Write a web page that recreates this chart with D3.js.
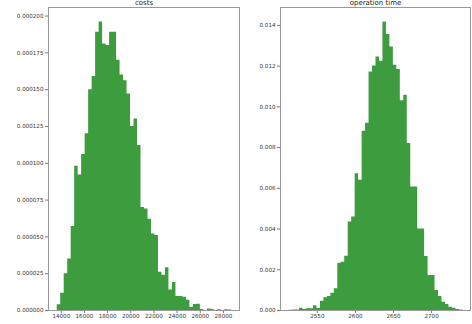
<!DOCTYPE html>
<html>
<head>
<meta charset="utf-8">
<script src="https://cdn.jsdelivr.net/npm/d3@7"></script>
<style>
body { margin: 0; background: #fff; }
svg text { font-family: "DejaVu Sans", sans-serif; }
</style>
</head>
<body>
<script>
// costs histogram (density, 50 bins)
var costRange = [13650, 28720]
var costDensity = [
    3.9e-6, 1.18e-5, 2.5e-5, 3.5e-5, 5.7e-5, 9.8e-5, 9.2e-5, 1.06e-4, 1.2e-4, 1.5e-4,
    1.59e-4, 1.89e-4, 1.96e-4, 1.81e-4, 1.8e-4, 1.89e-4, 1.89e-4, 1.7e-4, 1.6e-4, 1.56e-4,
    1.47e-4, 1.25e-4, 1.3e-4, 1.12e-4, 7.0e-5, 6.9e-5, 6.2e-5, 5.2e-5, 5.1e-5, 2.6e-5,
    2.4e-5, 2.9e-5, 1.4e-5, 1.9e-5, 9.5e-6, 9.5e-6, 9e-6, 7e-6, 2e-6, 4e-6,
    4.3e-6, 0.7e-6, 0, 1e-6, 0.7e-6, 0, 0.5e-6, 0, 0.5e-6, 0.3e-6
]
var costTicksX = [14000, 16000, 18000, 20000, 22000, 24000, 26000, 28000]
var costTicksY = [0, 0.000025, 0.00005, 0.000075, 0.0001, 0.000125, 0.00015, 0.000175, 0.0002]

// operation time histogram (density, 50 bins)
var timeRange = [2513, 2741]
var timeDensity = [
    1e-5, 2e-5, 2e-5, 1.1e-4, 5e-5, 8e-5, 8e-5, 2.3e-4, 1e-4, 4.6e-4,
    6.2e-4, 6.9e-4, 8.5e-4, 1.07e-3, 2.32e-3, 2.37e-3, 2.67e-3, 4.34e-3, 4.59e-3, 6.72e-3,
    6.39e-3, 8.8e-3, 9.2e-3, 1.171e-2, 1.2e-2, 1.245e-2, 1.224e-2, 1.417e-2, 1.355e-2, 1.294e-2,
    1.204e-2, 1.184e-2, 1.03e-2, 1.057e-2, 8.2e-3, 6.06e-3, 6.06e-3, 4.0e-3, 4.0e-3, 2.65e-3,
    1.72e-3, 1.72e-3, 9.8e-4, 6.9e-4, 4.1e-4, 2.9e-4, 1.6e-4, 1.1e-4, 5e-5, 3e-5
]
var timeTicksX = [2550, 2600, 2650, 2700]
var timeTicksY = [0, 0.002, 0.004, 0.006, 0.008, 0.010, 0.012, 0.014]

var width = 472
var height = 324
var fill = '#3d9c3d'

var svg = d3.select('body')
    .append('svg')
    .attr('width', width)
    .attr('height', height)

histPanel({
    title: 'costs', left: 48, right: 240, top: 7, bottom: 310,
    range: costRange, values: costDensity,
    ticksX: costTicksX, ticksY: costTicksY,
    fmtX: d3.format('d'), fmtY: d3.format('.6f')
})

histPanel({
    title: 'operation time', left: 280, right: 471, top: 7, bottom: 310,
    range: timeRange, values: timeDensity,
    ticksX: timeTicksX, ticksY: timeTicksY,
    fmtX: d3.format('d'), fmtY: d3.format('.3f')
})

function histPanel(o) {
    var n = o.values.length
    var step = (o.range[1] - o.range[0]) / n
    var pad = (o.range[1] - o.range[0]) * 0.05
    var ymax = d3.max(o.values)

    var x = d3.scaleLinear()
        .domain([o.range[0] - pad, o.range[1] + pad])
        .range([o.left, o.right])

    var y = d3.scaleLinear()
        .domain([0, ymax * 1.05])
        .range([o.bottom, o.top])

    var pts = o.values.map(function (v, i) { return [o.range[0] + i * step, v] })
    pts.push([o.range[1], o.values[n - 1]])

    var area = d3.area()
        .curve(d3.curveStepAfter)
        .x(function (d) { return x(d[0]) })
        .y0(y(0))
        .y1(function (d) { return y(d[1]) })

    var g = svg.append('g')

    g.append('path')
        .datum(pts)
        .attr('d', area)
        .attr('fill', fill)

    var xAxis = d3.axisBottom(x)
        .tickValues(o.ticksX)
        .tickFormat(o.fmtX)
        .tickSize(3)
        .tickPadding(1.5)

    var yAxis = d3.axisLeft(y)
        .tickValues(o.ticksY)
        .tickFormat(o.fmtY)
        .tickSize(3)
        .tickPadding(1.5)

    var gx = g.append('g')
        .attr('transform', 'translate(0,' + o.bottom + ')')
        .call(xAxis)

    var gy = g.append('g')
        .attr('transform', 'translate(' + o.left + ',0)')
        .call(yAxis)

    ;[gx, gy].forEach(function (a) {
        a.select('.domain').remove()
        a.selectAll('line').attr('stroke', '#777')
        a.selectAll('text')
            .attr('fill', '#333')
            .style('font-size', '5.6px')
    })

    // spines
    g.append('rect')
        .attr('x', o.left + 0.5)
        .attr('y', o.top + 0.5)
        .attr('width', o.right - o.left - 1)
        .attr('height', o.bottom - o.top)
        .attr('fill', 'none')
        .attr('stroke', '#999')
        .attr('stroke-width', 1)

    g.append('text')
        .attr('x', (o.left + o.right) / 2)
        .attr('y', o.top - 2)
        .attr('text-anchor', 'middle')
        .attr('fill', '#222')
        .style('font-size', '7px')
        .text(o.title)
}
</script>
</body>
</html>
